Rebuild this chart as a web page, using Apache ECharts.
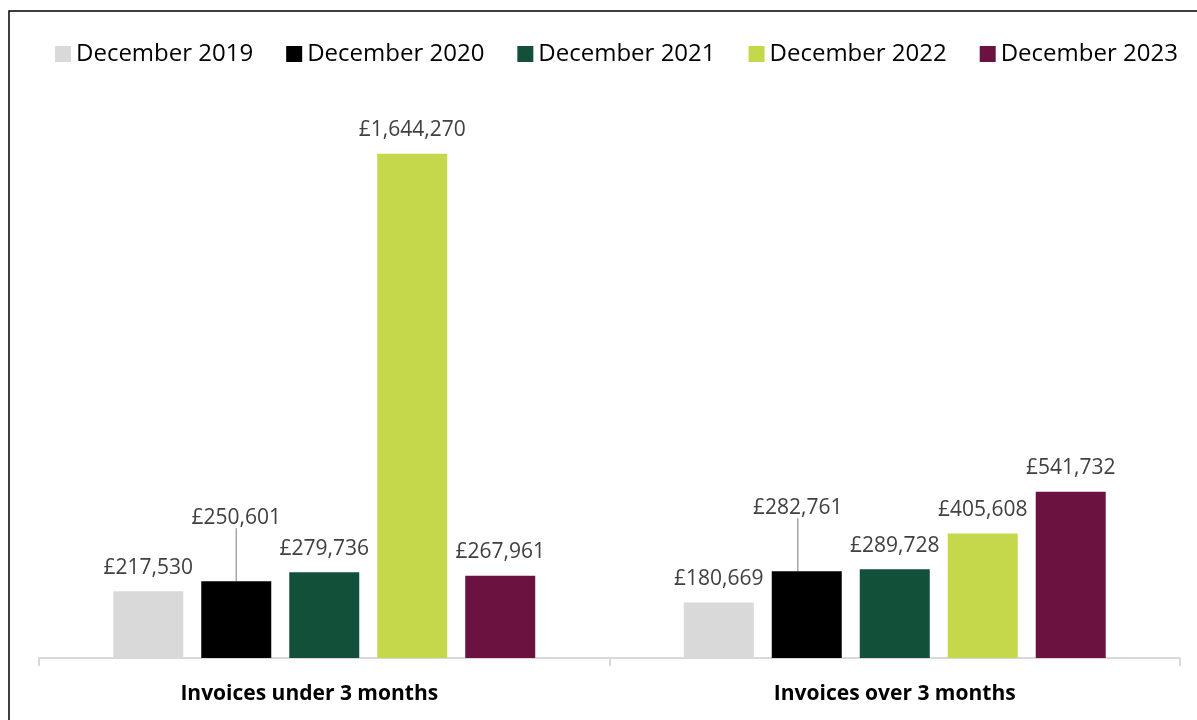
<!DOCTYPE html>
<html>
<head>
<meta charset="utf-8">
<script src="https://cdn.jsdelivr.net/npm/echarts@6/dist/echarts.min.js"></script>
<style>
  html, body { margin: 0; padding: 0; background: #ffffff; }
  #chart { width: 1197px; height: 720px; }
</style>
</head>
<body>
<div id="chart"></div>
<script>
// Outstanding invoice values by age band, December snapshots
const categories = ['Invoices under 3 months', 'Invoices over 3 months'];
const seriesNames = ['December 2019', 'December 2020', 'December 2021', 'December 2022', 'December 2023'];
const dec2019 = [217530, 180669];
const dec2020 = [250601, 282761];
const dec2021 = [279736, 289728];
const dec2022 = [1644270, 405608];
const dec2023 = [267961, 541732];
const seriesColors = ['#D9D9D9', '#000000', '#12503A', '#C5D84B', '#6C1241'];

const FONT = '"Open Sans", "Noto Sans", sans-serif';
const values = [dec2019, dec2020, dec2021, dec2022, dec2023];

function gbp(v) {
  return '£' + v.toLocaleString('en-GB');
}

const series = seriesNames.map((name, i) => {
  const isLeader = i === 1; // the December 2020 labels are lifted with a leader line
  return {
    name: name,
    type: 'bar',
    barWidth: 70,
    barGap: '25.7%',
    itemStyle: { color: seriesColors[i] },
    data: values[i].map(v => isLeader
      ? { value: v, labelLine: { show: true } }
      : { value: v }),
    label: {
      show: true,
      position: 'top',
      distance: 13,
      formatter: p => gbp(p.value),
      color: '#404040',
      fontFamily: FONT,
      fontSize: 21
    },
    labelLine: {
      show: false,
      lineStyle: { color: '#A6A6A6', width: 1.5 }
    },
    labelLayout: isLeader ? function (p) {
      return p.dataIndex === 0 ? { dy: -40 } : { dx: -9, dy: -40 };
    } : undefined
  };
});

const chart = echarts.init(document.getElementById('chart'), null, { renderer: 'canvas' });
chart.setOption({
  animation: false,
  backgroundColor: '#ffffff',
  textStyle: { fontFamily: FONT },
  legend: {
    data: seriesNames,
    left: 55,
    top: 42,
    padding: 0,
    itemWidth: 16,
    itemHeight: 16,
    itemGap: 33,
    icon: 'rect',
    textStyle: { fontFamily: FONT, fontSize: 24, color: '#000000' }
  },
  grid: { left: 39, right: 17, top: 106, bottom: 62, containLabel: false },
  xAxis: {
    type: 'category',
    data: [
      { value: categories[0], textStyle: { padding: [0, 30, 0, 0] } },
      { value: categories[1] }
    ],
    axisLine: { lineStyle: { color: '#D9D9D9', width: 2 } },
    axisTick: { show: true, length: 8, lineStyle: { color: '#D9D9D9', width: 2 } },
    axisLabel: {
      margin: 26,
      color: '#000000',
      fontFamily: FONT,
      fontWeight: 'bold',
      fontSize: 21
    }
  },
  yAxis: {
    type: 'value',
    min: 0,
    max: 1800000,
    show: false,
    splitLine: { show: false }
  },
  graphic: [{
    type: 'rect',
    shape: { x: 9, y: 11, width: 1220, height: 740 },
    style: { fill: 'none', stroke: '#000000', lineWidth: 1.5 },
    silent: true,
    z: 10
  }],
  series: series
});
</script>
</body>
</html>
